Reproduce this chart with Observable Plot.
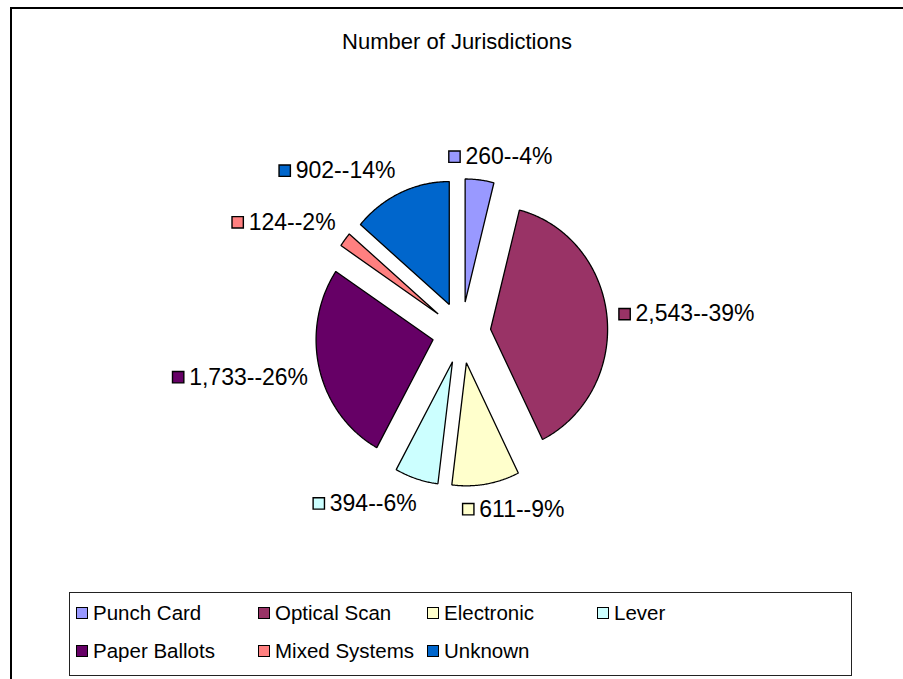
<!DOCTYPE html>
<html><head><meta charset="utf-8">
<script src="https://cdn.jsdelivr.net/npm/d3@7"></script>
<script src="https://cdn.jsdelivr.net/npm/@observablehq/plot@0.6"></script>
<style>
html,body{margin:0;padding:0;background:#fff;overflow:hidden}
#wrap{position:relative;width:903px;height:679px;overflow:hidden;font-family:"Liberation Sans",Arial,sans-serif;color:#000}
#frame{position:absolute;left:10px;top:7px;width:1000px;height:1000px;border:2px solid #000;box-sizing:border-box}
#title{position:absolute;left:0;width:914px;top:29px;text-align:center;font-size:22px;line-height:26px}
#chart{position:absolute;left:0;top:0}
#legend{position:absolute;left:69px;top:592px;width:783px;height:84px;border:1.5px solid #222;box-sizing:border-box;
  display:grid;grid-template-columns:182px 169px 170px auto;grid-auto-rows:38px;padding-left:6px;padding-top:1px;font-size:20.5px}
.item{display:flex;align-items:center;white-space:nowrap}
.sw{display:inline-block;width:12px;height:12px;border:1.5px solid #000;box-sizing:border-box;margin-right:5px;flex:none}
</style></head>
<body><div id="wrap"><div id="frame"></div><div id="chart"></div><div id="title"></div><div id="legend"></div></div>
<script>
const title = "Number of Jurisdictions";
const categories = ["Punch Card","Optical Scan","Electronic","Lever","Paper Ballots","Mixed Systems","Unknown"];
const values = [260, 2543, 611, 394, 1733, 124, 902];
const colors = ["#9999FF","#993366","#FFFFCC","#CCFFFF","#660066","#FF8080","#0066CC"];

document.getElementById("title").textContent = title;

const total = d3.sum(values);
const explode = 0.25;
let acc = 0;
const slices = categories.map((c, i) => {
  const a0 = acc / total * 2 * Math.PI; acc += values[i];
  const a1 = acc / total * 2 * Math.PI;
  const pct = Math.round(values[i] / total * 100);
  return {c, v: values[i], a0, a1, m: (a0 + a1) / 2, label: d3.format(",")(values[i]) + "--" + pct + "%"};
});

const poly = [];
for (const s of slices) {
  const ox = explode * Math.sin(s.m), oy = explode * Math.cos(s.m);
  poly.push({c: s.c, x: ox, y: oy});
  const n = Math.max(2, Math.ceil((s.a1 - s.a0) / (Math.PI / 360)));
  for (let k = 0; k <= n; k++) {
    const a = s.a0 + (s.a1 - s.a0) * k / n;
    poly.push({c: s.c, x: ox + Math.sin(a), y: oy + Math.cos(a)});
  }
}

const fontSize = 23;
const ctx = document.createElement("canvas").getContext("2d");
ctx.font = `${fontSize}px "Liberation Sans"`;
const R = 1.35, sw = 12, gap = 5, lh = 24;
const clamp = v => Math.max(-1, Math.min(1, v));
const labelMarks = [];
for (const s of slices) {
  const w = sw + gap + ctx.measureText(s.label).width;
  const hx = clamp(3 * Math.sin(s.m)), hy = clamp(1.5 * Math.cos(s.m));
  const left = -w * (1 - hx) / 2;
  const dy = -(lh / 2) * hy;
  const pt = [{x: R * Math.sin(s.m), y: R * Math.cos(s.m), c: s.c, label: s.label}];
  labelMarks.push(Plot.dot(pt, {x: "x", y: "y", fill: "c", symbol: "square", r: 6.4, stroke: "#000", strokeWidth: 1.4, dx: left + sw / 2, dy: dy + 1}));
  labelMarks.push(Plot.text(pt, {x: "x", y: "y", text: "label", textAnchor: "start", fontSize, fill: "#000", dx: left + sw + gap, dy: dy + 1}));
}

const chart = Plot.plot({
  width: 903, height: 679,
  x: {domain: [-1, 1], range: [344, 578], axis: null},
  y: {domain: [-1, 1], range: [455, 209], axis: null},
  color: {domain: categories, range: colors},
  style: {background: "transparent", fontFamily: '"Liberation Sans", Arial, sans-serif', overflow: "visible"},
  marks: [
    Plot.line(poly, {x: "x", y: "y", z: "c", fill: "c", stroke: "#000", strokeWidth: 1.3, curve: "linear-closed", strokeLinejoin: "miter"}),
    ...labelMarks
  ]
});
document.getElementById("chart").appendChild(chart);

const legend = d3.select("#legend");
categories.forEach((c, i) => {
  const it = legend.append("div").attr("class", "item");
  it.append("span").attr("class", "sw").style("background", colors[i]);
  it.append("span").text(c);
});
</script></body></html>
